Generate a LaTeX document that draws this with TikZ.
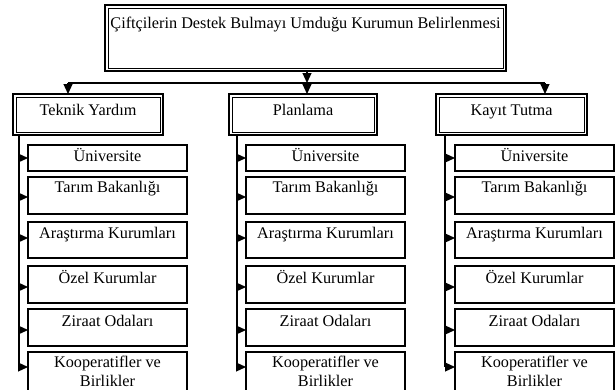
\documentclass[tikz,border=0pt]{standalone}
\usepackage{fontspec}
\setmainfont{Liberation Serif}
\usetikzlibrary{arrows.meta}
\begin{document}
\begin{tikzpicture}[x=1bp,y=-1bp,
  every node/.style={inner sep=0pt, outer sep=0pt},
  txt/.style={font=\fontsize{16.3}{19.5}\selectfont, anchor=base, align=center},
  dbox/.style={draw, line width=1.4bp, anchor=north west, minimum height=41bp},
  inner/.style={line width=0.7bp},
  cbox/.style={draw, line width=1.1bp, anchor=north west, minimum width=159bp},
  line/.style={line width=1.1bp},
  arr/.style={line, -{Triangle[length=10bp,width=9bp]}}]
\useasboundingbox (0,0) rectangle (616,389);
\clip (0,0) rectangle (616,389);
% top box
\node[dbox, minimum width=401bp, minimum height=66bp] (top) at (105,5) {};
\draw[inner] ([shift={(3,3)}]top.north west) rectangle ([shift={(-3,-3)}]top.south east);
\node[txt] (toptxt) at ([yshift=-23bp]top.north) {Çiftçilerin Destek Bulmayı Umduğu Kurumun Belirlenmesi};
% parent boxes
\foreach \c/\px/\pw/\lbl in {1/13/150/Teknik Yardım, 2/229/148/Planlama, 3/436/151/Kayıt Tutma}{
  \node[dbox, minimum width=\pw bp] (p\c) at (\px,94) {};
  \draw[inner] ([shift={(3,3)}]p\c.north west) rectangle ([shift={(-3,-3)}]p\c.south east);
  \node[txt] (pt\c) at ([yshift=-21bp]p\c.north) {\lbl};
}
% distribution line
\coordinate (hub) at (307,83);
\coordinate (hL) at (68,83);
\coordinate (hR) at (545,83);
\draw[arr] (hub |- top.south) -- (hub);
\draw[line] (hL) -- (hR);
\draw[arr] (hL) -- (hL |- p1.north);
\draw[arr] (hub) -- (hub |- p2.north);
\draw[arr] (hR) -- (hR |- p3.north);
% children
\foreach \c/\tx/\cx in {1/19/28, 2/237/246, 3/445/455}{
  \foreach \j/\ty/\h/\ay/\by/\lbl in {1/145/26/158/16.5/Üniversite, 2/177/37/197/15/Tarım Bakanlığı, 3/222/36/238/16.5/Araştırma Kurumları, 4/266/37/287/17/Özel Kurumlar, 5/309/37/330/17.5/Ziraat Odaları, 6/352/48/367/34.5/{Kooperatifler ve\\Birlikler}}{
    \node[cbox, minimum height=\h bp] (c\c-\j) at (\cx,\ty) {};
    \node[txt] (ct\c-\j) at ([yshift=-\by bp]c\c-\j.north) {\lbl};
    \coordinate (a\c-\j) at (\tx,\ay);
    \draw[arr] (a\c-\j) -- (a\c-\j -| c\c-\j.west);
  }
  \draw[line] (a\c-1 |- p\c.south) -- (a\c-6);
}
\end{tikzpicture}
\end{document}
